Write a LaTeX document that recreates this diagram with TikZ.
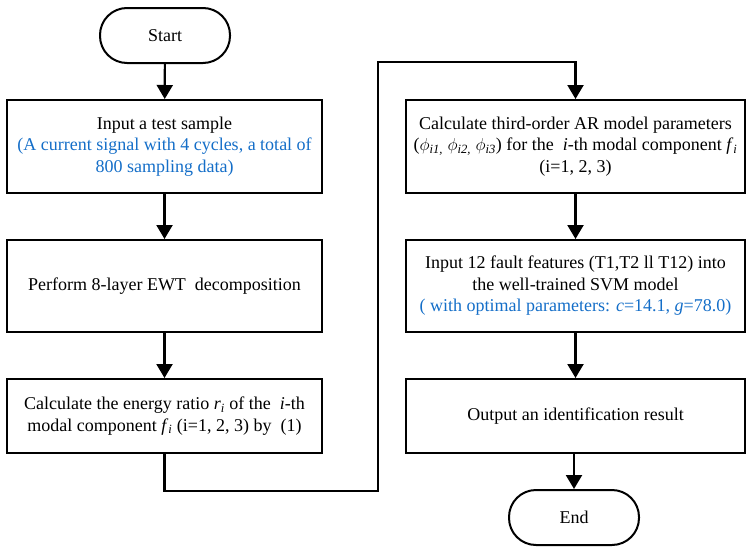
\documentclass[tikz,border=0pt]{standalone}
\usepackage{fontspec}
\setmainfont{Liberation Serif}
\usetikzlibrary{arrows.meta}
\definecolor{fblue}{RGB}{20,110,200}
\begin{document}
\begin{tikzpicture}[x=1pt,y=-1pt,
  box/.style={draw,line width=2pt,align=center,inner sep=0pt,font=\fontsize{18}{21.5}\selectfont},
  term/.style={draw,line width=2pt,rounded corners=27pt,minimum width=130pt,minimum height=55pt,inner sep=0pt,font=\fontsize{18}{21.5}\selectfont},
  arr/.style={line width=2.2pt,-{Triangle[width=16pt,length=14pt]}}]
\useasboundingbox (0,0) rectangle (753,554);
\node[term] (start) at (165,35.5) {Start};
\node[box,minimum width=315pt,minimum height=93pt] (b1) at (164.5,146.5)
  {Input a test sample\\ \textcolor{fblue}{(A current signal with 4 cycles, a total of}\\ \textcolor{fblue}{800 sampling data)}};
\node[box,minimum width=315pt,minimum height=92pt] (b2) at (164.5,286)
  {Perform 8-layer EWT\ \ decomposition};
\node[box,minimum width=315pt,minimum height=74pt] (b3) at (164.5,416)
  {Calculate the energy ratio \textit{r}\textsubscript{\textit{i}} of the\ \ \textit{i}-th\\ modal component \textit{f}\textsubscript{\textit{i}} (i=1, 2, 3) by\ \ (1)};
\node[box,minimum width=339pt,minimum height=93pt] (b4) at (575.5,146.5)
  {Calculate third-order AR model parameters\\ ($\phi$\textsubscript{\textit{i1,}} $\phi$\textsubscript{\textit{i2,}} $\phi$\textsubscript{\textit{i3}}) for the\ \ \textit{i}-th modal component \textit{f}\textsubscript{\textit{i}}\\ (i=1, 2, 3)};
\node[box,minimum width=339pt,minimum height=92pt] (b5) at (575.5,286)
  {Input 12 fault features (T1,T2 ll T12) into\\ the well-trained SVM model\\ \textcolor{fblue}{( with optimal parameters: \textit{c}=14.1, \textit{g}=78.0)}};
\node[box,minimum width=339pt,minimum height=74pt] (b6) at (575.5,416)
  {Output an identification result};
\node[term] (end) at (574,517.5) {End};
\coordinate (c2) at (378,491);
\coordinate (c3) at (378,62);
\draw[arr] (start) -- (b1);
\draw[arr] (b1) -- (b2);
\draw[arr] (b2) -- (b3);
\draw[arr] (b3.south) |- (c2) -- (c3) -| (b4.north);
\draw[arr] (b4) -- (b5);
\draw[arr] (b5) -- (b6);
\draw[arr] (b6.south -| end) -- (end);
\end{tikzpicture}
\end{document}
